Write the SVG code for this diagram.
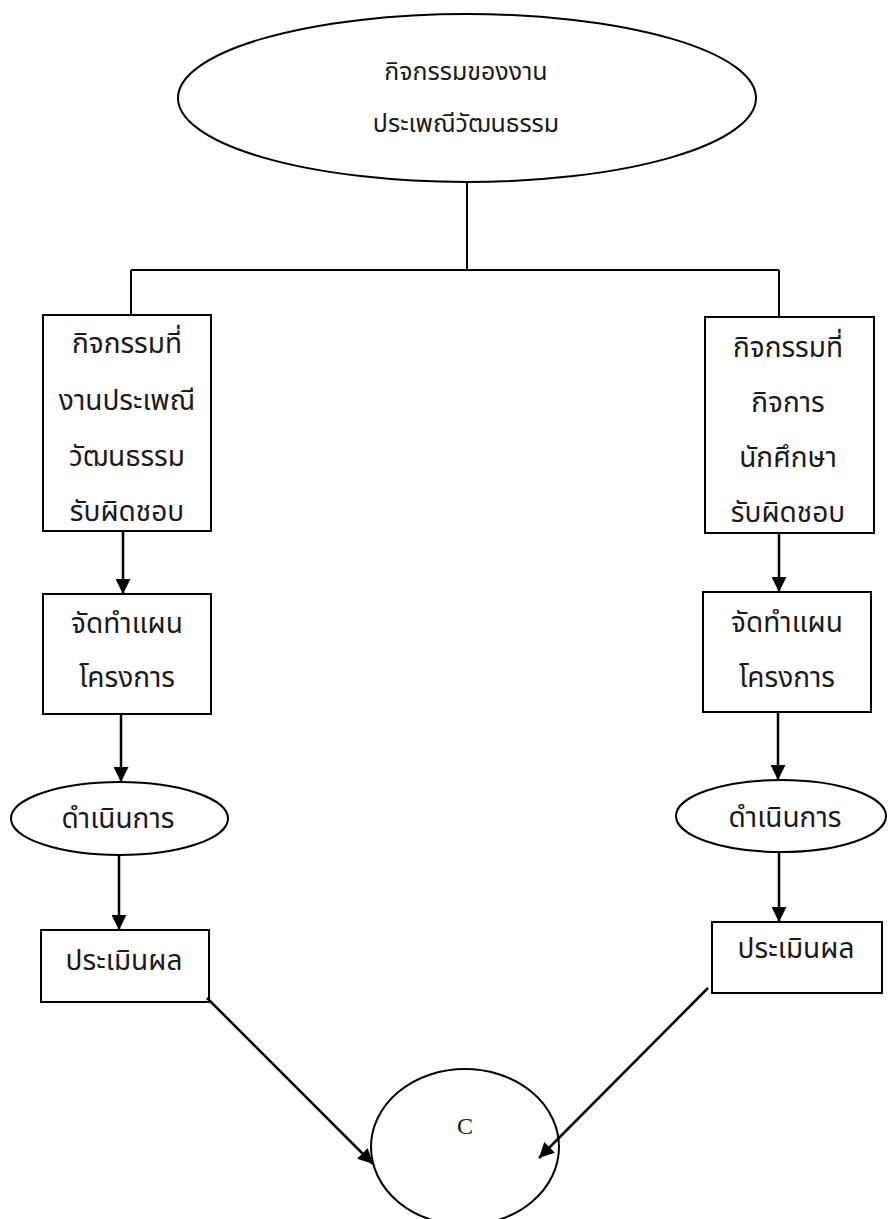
<svg xmlns="http://www.w3.org/2000/svg" width="888" height="1219" viewBox="0 0 888 1219">
<defs>
<style>
.n{fill:#fff;stroke:#000;stroke-width:2}
.t{font-family:"Noto Sans Thai","Noto Sans","DejaVu Sans",sans-serif;font-size:28px;fill:#1a1a1a;text-anchor:middle}
.tt{font-size:25px}
.c{fill:none;stroke:#000;stroke-width:2}
.a{fill:none;stroke:#000;stroke-width:2.5;marker-end:url(#ah)}
</style>
<marker id="ah" viewBox="0 0 10 10" refX="10" refY="5" markerWidth="6" markerHeight="6" markerUnits="strokeWidth" orient="auto">
<path d="M0,0 L10,5 L0,10 Z" fill="#000"/>
</marker>
</defs>
<rect width="888" height="1219" fill="#fff"/>
<g id="n_top">
<ellipse class="n" cx="467" cy="98" rx="289" ry="84"/>
<text class="t tt" x="466" y="80">กิจกรรมของงาน</text>
<text class="t tt" x="466" y="132">ประเพณีวัฒนธรรม</text>
</g>
<g id="n_left1">
<rect class="n" x="43" y="315" width="168" height="216"/>
<text class="t" x="127" y="353">กิจกรรมที่</text>
<text class="t" x="127" y="410">งานประเพณี</text>
<text class="t" x="127" y="466">วัฒนธรรม</text>
<text class="t" x="127" y="521">รับผิดชอบ</text>
</g>
<g id="n_right1">
<rect class="n" x="705" y="317" width="169" height="216"/>
<text class="t" x="788" y="357">กิจกรรมที่</text>
<text class="t" x="788" y="412">กิจการ</text>
<text class="t" x="788" y="467">นักศึกษา</text>
<text class="t" x="788" y="522">รับผิดชอบ</text>
</g>
<g id="n_left2">
<rect class="n" x="43" y="594" width="168" height="120"/>
<text class="t" x="127" y="633">จัดทำแผน</text>
<text class="t" x="127" y="687">โครงการ</text>
</g>
<g id="n_right2">
<rect class="n" x="703" y="592" width="168" height="120"/>
<text class="t" x="787" y="632">จัดทำแผน</text>
<text class="t" x="787" y="687">โครงการ</text>
</g>
<g id="n_left3">
<ellipse class="n" cx="119.5" cy="818.5" rx="108.5" ry="36.5"/>
<text class="t" x="118" y="828">ดำเนินการ</text>
</g>
<g id="n_right3">
<ellipse class="n" cx="781" cy="816" rx="105" ry="36"/>
<text class="t" x="785" y="827">ดำเนินการ</text>
</g>
<g id="n_left4">
<rect class="n" x="41" y="930" width="168" height="72"/>
<text class="t" x="124" y="970">ประเมินผล</text>
</g>
<g id="n_right4">
<rect class="n" x="712" y="922" width="170" height="71"/>
<text class="t" x="796" y="958">ประเมินผล</text>
</g>
<g id="n_c">
<ellipse class="n" cx="465" cy="1147" rx="94" ry="78"/>
<text x="465" y="1134" font-family="Liberation Serif,serif" font-size="24" text-anchor="middle" fill="#1a1a1a">C</text>
</g>
<g id="connectors">
<path class="c" d="M467,182 V270 M131,270 H779 M131,270 V315 M779,270 V317"/>
<line class="a" x1="123" y1="531" x2="123" y2="594"/>
<line class="a" x1="121" y1="714" x2="121" y2="782"/>
<line class="a" x1="119" y1="855" x2="119" y2="930"/>
<line class="a" x1="779" y1="533" x2="779" y2="592"/>
<line class="a" x1="778" y1="712" x2="778" y2="780"/>
<line class="a" x1="779" y1="852" x2="779" y2="922"/>
<line class="a" x1="207" y1="998" x2="373" y2="1164"/>
<line class="a" x1="708" y1="988" x2="539" y2="1158"/>
</g>
</svg>
